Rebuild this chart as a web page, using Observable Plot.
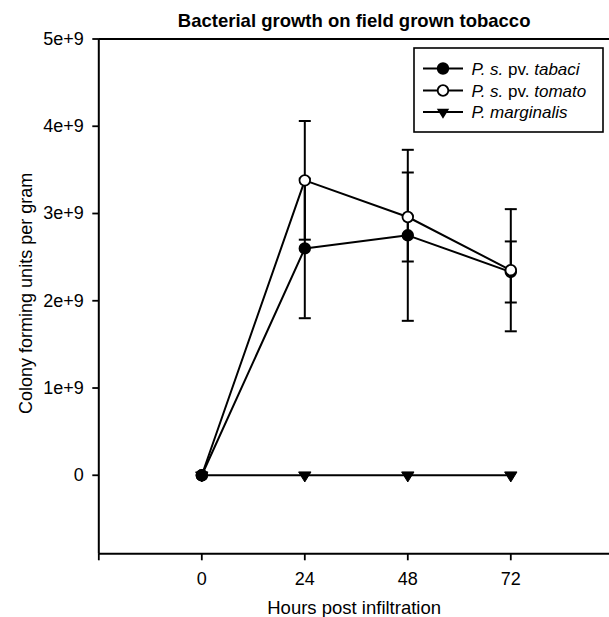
<!DOCTYPE html>
<html><head><meta charset="utf-8">
<script src="https://cdn.jsdelivr.net/npm/d3@7"></script>
<script src="https://cdn.jsdelivr.net/npm/@observablehq/plot@0.6"></script>
<style>
body{margin:0;background:#fff;}
#wrap{position:relative;width:609px;height:617px;overflow:hidden;font-family:"Liberation Sans",Arial,sans-serif;}
#legend{position:absolute;left:0;top:0;pointer-events:none;}
</style></head><body><div id="wrap"></div>
<script>
// ---- data ----
const hours = [0, 24, 48, 72];
const tabaci = [0, 2.60e9, 2.75e9, 2.33e9];
const tabaciErr = [0, 0.80e9, 0.98e9, 0.35e9];
const tomato = [0, 3.38e9, 2.96e9, 2.35e9];
const tomatoErr = [0, 0.68e9, 0.51e9, 0.70e9];
const marginalis = [0, 0, 0, 0];
const seriesNames = ["tabaci", "tomato", "marginalis"];
const xTicks = [-24, 0, 24, 48, 72];
const xTickLabels = ["", "0", "24", "48", "72"];
const yTicks = [0, 1e9, 2e9, 3e9, 4e9, 5e9];
const yTickLabels = ["0", "1e+9", "2e+9", "3e+9", "4e+9", "5e+9"];
const xDomain = [-24, 95];
const yDomain = [-0.9e9, 5e9];
const titleText = "Bacterial growth on field grown tobacco";
const xLabel = "Hours post infiltration";
const yLabel = "Colony forming units per gram";

// ---- table ----
const vals = {tabaci, tomato, marginalis};
const errs = {tabaci: tabaciErr, tomato: tomatoErr, marginalis: [0,0,0,0]};
const rows = [];
for (const s of seriesNames) hours.forEach((h, i) => rows.push({series: s, hour: h, value: vals[s][i], err: errs[s][i]}));
const errRows = rows.filter(d => d.err > 0);
const caps = errRows.flatMap(d => [{hour: d.hour, y: d.value - d.err}, {hour: d.hour, y: d.value + d.err}]);
// marker drawing order (as in the reference)
const markerRows = [
  ...rows.filter(d => d.series === "marginalis"),
  ...rows.filter(d => d.series === "tabaci" && d.hour > 0),
  ...rows.filter(d => d.series === "tomato"),
  ...rows.filter(d => d.series === "tabaci" && d.hour === 0)
];

const triDown = {draw(ctx, size) {const s = Math.sqrt(size / Math.PI); const w = s * 1.03, h = s * 1.67;
  ctx.moveTo(-w, -h / 3); ctx.lineTo(w, -h / 3); ctx.lineTo(0, 2 * h / 3); ctx.closePath();}};
const capSym = {draw(ctx, size) {const s = Math.sqrt(size / Math.PI); ctx.moveTo(-s, 0); ctx.lineTo(s, 0);}};

const fillOf = {tabaci: "black", tomato: "white", marginalis: "black"};

const plot = Plot.plot({
  width: 609, height: 617,
  marginLeft: 98.3, marginRight: 0, marginTop: 38.5, marginBottom: 63.7,
  style: {fontFamily: '"Liberation Sans", Arial, sans-serif', fontSize: "18px", color: "#000", background: "#fff", overflow: "visible"},
  x: {domain: xDomain},
  y: {domain: yDomain},
  marks: [
    Plot.axisX({ticks: xTicks, tickFormat: d => xTickLabels[xTicks.indexOf(d)], tickSize: 7, tickPadding: 11, label: null, strokeWidth: 1.8}),
    Plot.axisY({ticks: yTicks, tickFormat: d => yTickLabels[yTicks.indexOf(d)], tickSize: 6, tickPadding: 9, label: null, strokeWidth: 1.8}),
    Plot.ruleY(yDomain, {strokeWidth: 2}),
    Plot.ruleX([xDomain[0]], {strokeWidth: 2}),
    Plot.line(rows, {x: "hour", y: "value", z: "series", stroke: "black", strokeWidth: 2}),
    Plot.ruleX(errRows, {x: "hour", y1: d => d.value - d.err, y2: d => d.value + d.err, stroke: "black", strokeWidth: 2}),
    Plot.dot(caps, {x: "hour", y: "y", symbol: capSym, r: 6, stroke: "black", strokeWidth: 2}),
    Plot.dot(markerRows.filter(d => d.series === "marginalis"), {x: "hour", y: "value", symbol: triDown, r: 6, fill: "black", stroke: "black", strokeWidth: 1}),
    Plot.dot(markerRows.filter(d => d.series !== "marginalis"), {x: "hour", y: "value", r: 5.3, fill: d => fillOf[d.series], stroke: "black", strokeWidth: 1.8}),
    Plot.text([titleText], {frameAnchor: "top", textAnchor: "middle", lineAnchor: "bottom", dy: -12, fontWeight: "bold", fontSize: 18.5}),
    Plot.text([xLabel], {frameAnchor: "bottom", textAnchor: "middle", lineAnchor: "bottom", dy: 60.5, fontSize: 18.5}),
    Plot.text([yLabel], {frameAnchor: "left", textAnchor: "middle", lineAnchor: "bottom", rotate: -90, dx: -66.8, dy: -3, fontSize: 18})
  ]
});
const wrap = document.getElementById("wrap");
wrap.appendChild(plot);

// ---- legend ----
const legendItems = [
  {series: "tabaci", parts: [["P.\u00a0s.", true], ["\u00a0pv.\u00a0", false], ["tabaci", true]]},
  {series: "tomato", parts: [["P.\u00a0s.", true], ["\u00a0pv.\u00a0", false], ["tomato", true]]},
  {series: "marginalis", parts: [["P.\u00a0marginalis", true]]}
];
const rowY = [68.5, 90.5, 112];
const svg = d3.select(wrap).append("svg").attr("id", "legend").attr("width", 609).attr("height", 617);
svg.append("rect").attr("x", 414).attr("y", 48).attr("width", 189).attr("height", 84)
  .attr("fill", "white").attr("stroke", "black").attr("stroke-width", 1.6);
legendItems.forEach((it, i) => {
  const y = rowY[i];
  svg.append("line").attr("x1", 423).attr("x2", 463).attr("y1", y).attr("y2", y).attr("stroke", "black").attr("stroke-width", 2);
  if (it.series === "marginalis") {
    svg.append("path").attr("transform", `translate(443,${y})`)
      .attr("d", d3.symbol(triDown, Math.PI * 36)()).attr("fill", "black");
  } else {
    svg.append("circle").attr("cx", 443).attr("cy", y).attr("r", 5.3)
      .attr("fill", fillOf[it.series]).attr("stroke", "black").attr("stroke-width", 1.8);
  }
  const t = svg.append("text").attr("x", 471.5).attr("y", y + 6)
    .style("font-family", '"Liberation Sans", Arial, sans-serif').style("font-size", "17px").attr("fill", "black");
  it.parts.forEach(([txt, ital]) => t.append("tspan").style("font-style", ital ? "italic" : "normal").text(txt));
});
</script>
</body></html>
